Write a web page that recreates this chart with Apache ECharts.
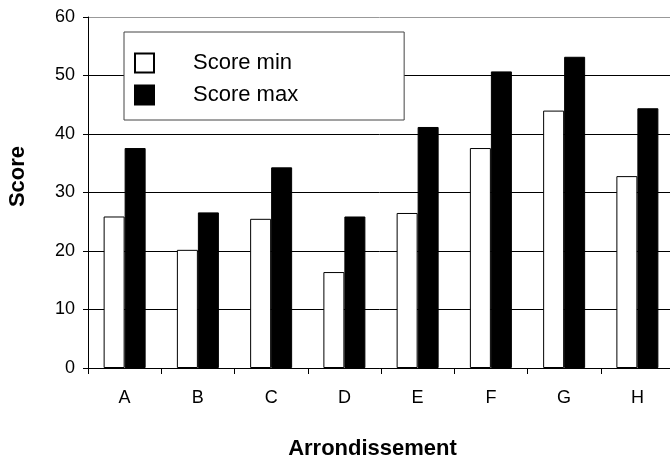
<!DOCTYPE html>
<html>
<head>
<meta charset="utf-8">
<script src="https://cdn.jsdelivr.net/npm/echarts@6/dist/echarts.min.js"></script>
<style>
  html, body { margin: 0; padding: 0; background: #fff; }
  #chart { width: 670px; height: 464px; }
</style>
</head>
<body>
<div id="chart"></div>
<script>
// Arrondissements and their score range
const categories = ['A', 'B', 'C', 'D', 'E', 'F', 'G', 'H'];
const scoreMin = [25.9, 20.2, 25.5, 16.4, 26.5, 37.6, 44.0, 32.8];
const scoreMax = [37.6, 26.6, 34.3, 25.9, 41.2, 50.7, 53.2, 44.4];
const yTicks = [0, 10, 20, 30, 40, 50, 60];

const FONT = '"Liberation Sans", Arial, sans-serif';

const chart = echarts.init(document.getElementById('chart'));
chart.setOption({
  animation: false,
  backgroundColor: '#fff',
  textStyle: { fontFamily: FONT, color: '#000' },
  grid: { left: 88, top: 17, width: 586, height: 351, containLabel: false, outerBoundsMode: 'none' },
  legend: {
    orient: 'vertical',
    left: 124,
    top: 32,
    itemWidth: 19,
    itemHeight: 19,
    itemGap: 10,
    padding: [20, 106, 14, 10],
    borderColor: '#444',
    borderWidth: 1,
    backgroundColor: '#fff',
    icon: 'rect',
    textStyle: { fontFamily: FONT, fontSize: 22, lineHeight: 19, color: '#000', padding: [0, 0, 0, 34] },
    data: ['Score min', 'Score max']
  },
  xAxis: {
    type: 'category',
    data: categories,
    name: 'Arrondissement',
    nameLocation: 'middle',
    nameGap: 70,
    nameTextStyle: { fontFamily: FONT, fontSize: 22, fontWeight: 'bold', color: '#000', padding: [0, 17, 0, 0] },
    axisLine: { lineStyle: { color: '#000', width: 1 } },
    axisTick: { show: true, length: 6, lineStyle: { color: '#000' } },
    axisLabel: { fontFamily: FONT, fontSize: 18, color: '#000', margin: 21 }
  },
  yAxis: {
    type: 'value',
    min: yTicks[0],
    max: yTicks[yTicks.length - 1],
    interval: 10,
    name: 'Score',
    nameLocation: 'middle',
    nameGap: 59,
    nameRotate: 90,
    nameTextStyle: { fontFamily: FONT, fontSize: 22, fontWeight: 'bold', color: '#000', padding: [0, 0, 0, 32] },
    axisLine: { show: true, lineStyle: { color: '#000', width: 1 } },
    axisTick: { show: true, length: 5, lineStyle: { color: '#000' } },
    axisLabel: { fontFamily: FONT, fontSize: 18, color: '#000', margin: 13 },
    splitLine: {
      show: true,
      lineStyle: { color: ['#000', '#000', '#000', '#000', '#000', '#000', '#999'], width: 1 }
    }
  },
  series: [
    {
      name: 'Score min',
      type: 'bar',
      data: scoreMin,
      barWidth: 21,
      barGap: '0%',
      itemStyle: { color: '#fff', borderColor: '#000', borderWidth: 1 }
    },
    {
      name: 'Score max',
      type: 'bar',
      data: scoreMax,
      barWidth: 21,
      itemStyle: { color: '#000', borderColor: '#000', borderWidth: 1 }
    }
  ]
});
</script>
</body>
</html>
